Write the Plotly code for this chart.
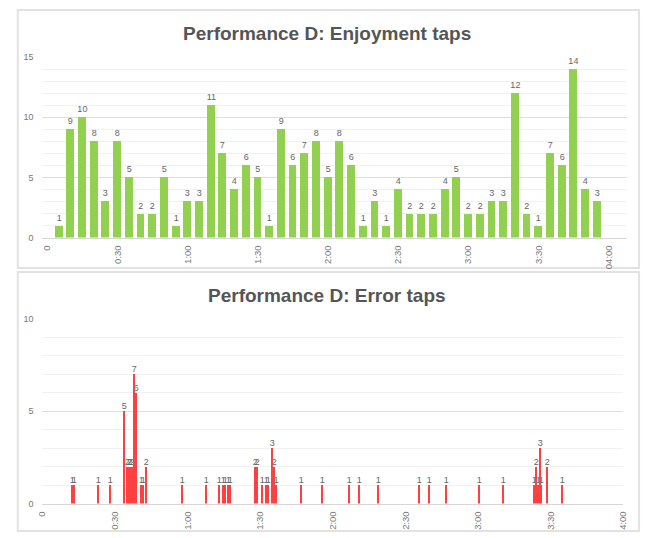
import plotly.graph_objects as go

# ---- data ----
enjoy_bin_seconds = [5 * i for i in range(1, 48)]
enjoy_counts = [1, 9, 10, 8, 3, 8, 5, 2, 2, 5, 1, 3, 3, 11, 7, 4, 6, 5, 1, 9,
                6, 7, 8, 5, 8, 6, 1, 3, 1, 4, 2, 2, 2, 4, 5, 2, 2, 3, 3, 12,
                2, 1, 7, 6, 14, 4, 3]

error_seconds = [12.5, 13.3, 23.1, 28.0, 34.1, 35.2, 35.9, 36.6, 37.2, 38.2,
                 39.1, 41.0, 41.7, 43.0, 58.1, 68.0, 73.0, 74.8, 75.8, 76.8,
                 77.8, 88.0, 88.8, 90.8, 92.7, 93.5, 94.9, 95.8, 96.8, 106.9,
                 115.8, 126.8, 130.9, 138.9, 155.9, 159.9, 166.8, 180.8, 190.7,
                 203.4, 204.1, 204.8, 205.7, 206.4, 208.7, 214.8]
error_counts = [1, 1, 1, 1, 5, 2, 2, 2, 2, 7, 6, 1, 1, 2, 1, 1, 1, 1, 1, 1,
                1, 2, 2, 1, 1, 1, 3, 2, 1, 1, 1, 1, 1, 1, 1, 1, 1, 1, 1, 1,
                2, 1, 3, 1, 2, 1]

tick_seconds = [0, 30, 60, 90, 120, 150, 180, 210, 240]
enjoy_tick_labels = ["0", "0:30", "1:00", "1:30", "2:00", "2:30", "3:00", "3:30", "04:00"]
error_tick_labels = ["0", "0:30", "1:00", "1:30", "2:00", "2:30", "3:00", "3:30", "4:00"]

W, H = 647, 538
def px(x):
    return x / W
def py(y):
    return 1 - y / H

GREEN = "#92d050"
RED = "#ff4040"
TXT = "#666666"
FONT = "Liberation Sans, Arial, sans-serif"

fig = go.Figure()
fig.add_trace(go.Bar(
    x=enjoy_bin_seconds, y=enjoy_counts, width=3.35,
    marker=dict(color=GREEN, line=dict(width=0)),
    text=enjoy_counts, textposition="outside", cliponaxis=False,
    constraintext="none",
    textfont=dict(size=9, color=TXT, family=FONT),
    xaxis="x", yaxis="y", showlegend=False,
))
fig.add_trace(go.Bar(
    x=error_seconds, y=error_counts, width=0.55,
    marker=dict(color=RED, line=dict(width=0)),
    text=error_counts, textposition="outside", cliponaxis=False,
    constraintext="none",
    textfont=dict(size=9, color=TXT, family=FONT),
    xaxis="x2", yaxis="y2", showlegend=False,
))

axis_common = dict(showgrid=False, zeroline=False, showline=True,
                   linecolor="#d6d6d6", linewidth=1,
                   tickangle=-90, tickfont=dict(size=9.5, color="#777777", family=FONT),
                   ticks="outside", ticklen=3, tickcolor="rgba(0,0,0,0)")
yaxis_common = dict(showgrid=True, gridcolor="#dedede", gridwidth=1, zeroline=False,
                    tickfont=dict(size=9, color="#777777", family=FONT),
                    ticks="outside", ticklen=6, tickcolor="rgba(0,0,0,0)",
                    minor=dict(dtick=1, showgrid=True, gridcolor="#f1f1f1", gridwidth=1))

fig.update_layout(
    width=W, height=H,
    margin=dict(l=0, r=0, t=0, b=0),
    paper_bgcolor="white", plot_bgcolor="white",
    bargap=0,
    xaxis=dict(domain=[px(37), px(632)], range=[-2.1, 247.9],
               tickmode="array", tickvals=tick_seconds, ticktext=enjoy_tick_labels,
               anchor="y", **axis_common),
    yaxis=dict(domain=[py(237), py(53)], range=[0, 15], tickvals=[0, 5, 10, 15],
               anchor="x", **yaxis_common),
    xaxis2=dict(domain=[px(37), px(628)], range=[0, 240],
                tickmode="array", tickvals=tick_seconds, ticktext=error_tick_labels,
                anchor="y2", **axis_common),
    yaxis2=dict(domain=[py(508), py(320)], range=[0, 10], tickvals=[0, 5, 10],
                anchor="x2", **yaxis_common),
    annotations=[
        dict(text="<b>Performance D: Enjoyment taps</b>", x=px(327), y=py(29),
             xref="paper", yref="paper", xanchor="center", yanchor="middle",
             showarrow=False, font=dict(size=19, color="#555555", family=FONT)),
        dict(text="<b>Performance D: Error taps</b>", x=px(327), y=py(296),
             xref="paper", yref="paper", xanchor="center", yanchor="middle",
             showarrow=False, font=dict(size=19, color="#555555", family=FONT)),
    ],
    shapes=[
        dict(type="rect", xref="paper", yref="paper",
             x0=px(12), x1=px(644), y0=py(268), y1=py(5),
             line=dict(color="#e2e2e2", width=2), layer="below"),
        dict(type="rect", xref="paper", yref="paper",
             x0=px(12), x1=px(644), y0=py(536), y1=py(272),
             line=dict(color="#e2e2e2", width=2), layer="below"),
    ],
)

fig.write_html("out.html", config={"displayModeBar": False})
with open("out.html", "r", encoding="utf-8") as f:
    html = f.read()
html = html.replace("<head>", "<head><style>html,body{margin:0;padding:0;overflow:hidden;}</style>", 1)
with open("out.html", "w", encoding="utf-8") as f:
    f.write(html)
